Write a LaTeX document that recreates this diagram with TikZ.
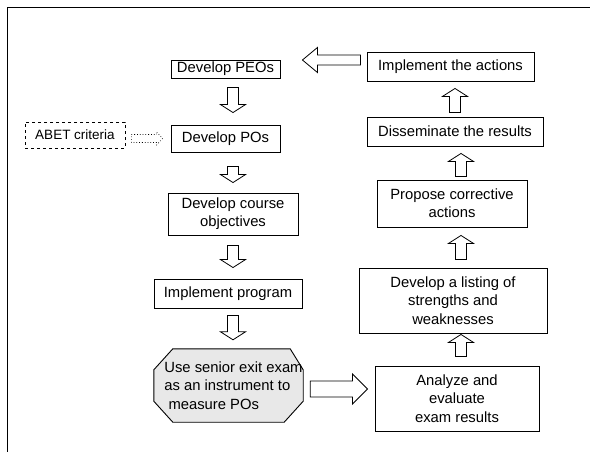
\documentclass[tikz,border=0pt]{standalone}
\usepackage{fontspec}
\setmainfont{Liberation Sans}
\usepackage{tikz}
\usetikzlibrary{positioning,calc,backgrounds}

% hollow block arrows, drawn as a to path between two points
\tikzset{
    gap a/.store in=\gapa, gap b/.store in=\gapb,
    shaft/.store in=\shafthw, head/.store in=\headhw, head len/.store in=\headlen,
    gap a=8pt, gap b=8pt, shaft=5.5pt, head=12.5pt, head len=8pt,
    fat/.style={draw, line width=0.8pt, line join=miter, to path={
        let \p1=($(\tikztostart)!\gapa!(\tikztotarget)$),
            \p2=($(\tikztotarget)!\gapb!(\tikztostart)$),
            \p3=($(\p2)!\headlen!(\p1)$) in
        ($(\p1)!\shafthw!90:(\p2)$) -- ($(\p3)!\shafthw!90:(\p2)$) -- ($(\p3)!\headhw!90:(\p2)$)
        -- (\p2)
        -- ($(\p3)!\headhw!-90:(\p2)$) -- ($(\p3)!\shafthw!-90:(\p2)$) -- ($(\p1)!\shafthw!-90:(\p2)$) -- cycle}}
}

\begin{document}
\begin{tikzpicture}[
    x=1pt, y=-1pt,
    every node/.style={font=\fontsize{14.8}{18.3}\selectfont},
    stepbox/.style={rectangle, draw, line width=0.9pt, align=center, inner sep=1pt},
    octtext/.style={rectangle, align=left, inner sep=1pt},
    octline/.style={draw, line width=0.9pt, fill=gray!18},
    dashbox/.style={rectangle, draw, dashed, line width=0.8pt, font=\fontsize{13.5}{16}\selectfont}
]
    \useasboundingbox (0,0) rectangle (590,461);
    \draw[line width=0.9pt] (590,7) -- (7,7) -- (7,452);

    % left column
    \node[stepbox, minimum width=109pt, minimum height=18pt] (peo) at (225.5,69) {Develop PEOs};
    \node[stepbox, minimum width=109pt, minimum height=27pt] (po) at (225.5,138.5) {Develop POs};
    \node[stepbox, minimum width=130pt, minimum height=42pt] (course) at (233,214) {Develop course\\objectives};
    \node[stepbox, minimum width=148pt, minimum height=29pt] (impl) at (228,293.5) {Implement program};
    \node[octtext, minimum width=149pt, minimum height=73pt] (oct) at (233.5,385.5) {Use senior exit exam\\as an instrument to\\~measure POs};
    \node[dashbox, minimum width=100pt, minimum height=26pt] (abet) at (75,135) {ABET criteria};

    % octagon behind the exam text
    \begin{scope}[on background layer]
        \path[octline] ([xshift=14pt]oct.north west) -- ([xshift=-18pt]oct.north east) -- ([xshift=-5pt,yshift=-21pt]oct.north east)
            -- ([xshift=-5pt,yshift=21pt]oct.south east) -- ([xshift=-24pt]oct.south east) -- ([xshift=14pt]oct.south west)
            -- ([xshift=-5pt,yshift=21pt]oct.south west) -- ([xshift=-5pt,yshift=-21pt]oct.north west) -- cycle;
    \end{scope}

    % right column
    \node[stepbox, minimum width=167pt, minimum height=29pt] (implact) at (450.5,66.5) {Implement the actions};
    \node[stepbox, minimum width=176pt, minimum height=29pt] (dissem) at (455,131.5) {Disseminate the results};
    \node[stepbox, minimum width=150pt, minimum height=47pt] (propose) at (452,203.5) {Propose corrective\\actions};
    \node[stepbox, minimum width=188pt, minimum height=65pt] (listing) at (453,300.5) {Develop a listing of\\strengths and\\weaknesses};
    \node[stepbox, minimum width=164pt, minimum height=65pt] (analyze) at (457,398.5) {Analyze and\\evaluate\\exam results};

    \coordinate (lcol) at (233,0);
    \coordinate (rcol) at (461,0);
    \coordinate (topline) at ([yshift=6.5pt]implact.west);
    \coordinate (midline) at ([yshift=-3.5pt]oct.east);

    \draw[fat, gap a=9pt, gap b=12pt] (peo.south -| lcol) to (po.north -| lcol);
    \draw[fat, gap a=14pt, gap b=10pt] (po.south -| lcol) to (course.north -| lcol);
    \draw[fat, gap a=10pt, gap b=11pt] (course.south -| lcol) to (impl.north -| lcol);
    \draw[fat, gap a=7pt, gap b=9pt] (impl.south -| lcol) to (oct.north -| lcol);
    \draw[fat, gap a=2pt, gap b=7pt, shaft=8pt, head=15pt, head len=15pt] (midline) to (midline -| analyze.west);
    \draw[fat, gap a=9pt, gap b=1pt] (analyze.north -| rcol) to (listing.south -| rcol);
    \draw[fat] (listing.north -| rcol) to (propose.south -| rcol);
    \draw[fat, gap a=3pt, gap b=7pt] (propose.north -| rcol) to (dissem.south -| rcol);
    \draw[fat, gap a=4pt, gap b=7pt] (dissem.north) to (implact.south -| dissem.north);
    \draw[fat, gap a=6pt, gap b=22pt, shaft=5pt, head len=15pt] (topline) to (topline -| peo.east);
    \draw[fat, dotted, line width=0.6pt, gap a=6pt, gap b=8pt, shaft=4pt, head=6.5pt, head len=6pt] (abet.east |- po) to (po.west);
\end{tikzpicture}
\end{document}
